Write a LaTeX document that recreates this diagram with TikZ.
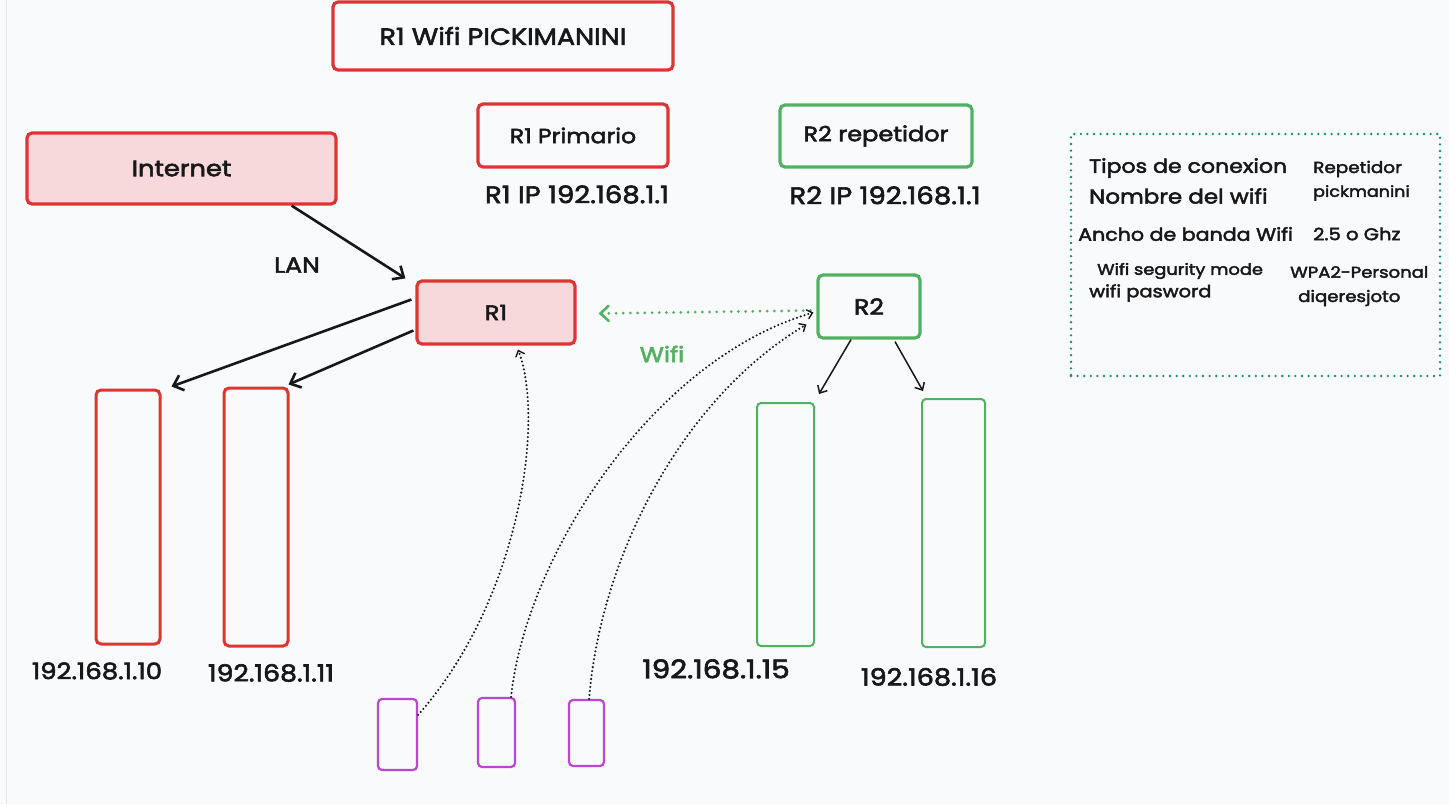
\documentclass[tikz,border=0pt]{standalone}
\usepackage{fontspec}
\setmainfont{Poppins}[FakeStretch=1.15,FakeBold=2.6]
\usetikzlibrary{arrows.meta}
\definecolor{bg}{RGB}{249,250,252}
\definecolor{cred}{RGB}{224,52,52}
\definecolor{cpink}{RGB}{247,216,219}
\definecolor{cgreen}{RGB}{80,178,96}
\definecolor{cteal}{RGB}{20,145,95}
\definecolor{cpurple}{RGB}{186,70,210}
\definecolor{ink}{RGB}{24,24,24}
\definecolor{edge}{RGB}{230,232,236}
\newcommand{\fs}[1]{\fontsize{#1}{#1}\selectfont}
\begin{document}
\begin{tikzpicture}[x=1pt,y=-1pt,
  txt/.style={text=ink,inner sep=0pt},
  redbox/.style={draw=cred,line width=3.2pt,rounded corners=5pt,text=ink,inner sep=0pt},
  greenbox/.style={draw=cgreen,line width=3.2pt,rounded corners=5pt,text=ink,inner sep=0pt},
  pcred/.style={draw=cred,line width=3pt,rounded corners=5pt,inner sep=0pt},
  pcgreen/.style={draw=cgreen,line width=2pt,rounded corners=4pt,inner sep=0pt},
  phone/.style={draw=cpurple,line width=2.2pt,rounded corners=4pt,inner sep=0pt},
  lan/.style={draw=ink,line width=2.6pt,-{Straight Barb[length=9pt,width=16pt,line width=2.6pt]}},
  thin/.style={draw=ink,line width=1.5pt,-{Straight Barb[length=6pt,width=11pt,line width=1.5pt]}},
  wlink/.style={draw=ink,line width=2.3pt,dash pattern=on 0pt off 4pt,line cap=round,
     -{Straight Barb[length=5pt,width=9pt,line width=1.4pt,line cap=round]}},
  gwifi/.style={draw=cgreen,line width=3pt,dash pattern=on 0pt off 7.2pt,line cap=round,
     -{Straight Barb[length=8pt,width=15pt,line width=2.6pt,line cap=round]}},
]
\fill[bg] (0,0) rectangle (1449,804);
\useasboundingbox (0,0) rectangle (1449,804);
\draw[edge,line width=1pt] (6,0) -- (6,804);

% top boxes
\node[redbox,minimum width=340pt,minimum height=68pt,font=\fs{23.5}] (title) at (503,36) {R1 Wifi PICKIMANINI};
\node[redbox,fill=cpink,minimum width=309pt,minimum height=71pt,font=\fs{22.4}] (inet) at (181.5,168.5) {Internet};
\node[redbox,minimum width=190pt,minimum height=63pt,font=\fs{20.5}] (r1p) at (573,135.5) {R1 Primario};
\node[txt,font=\fs{24}] (r1ip) at (577,194.5) {R1 IP 192.168.1.1};
\node[greenbox,minimum width=192pt,minimum height=62pt,font=\fs{20.9}] (r2r) at (876,136) {R2 repetidor};
\node[txt,font=\fs{24}] (r2ip) at (885,195.5) {R2 IP 192.168.1.1};

% routers
\node[redbox,fill=cpink,minimum width=158pt,minimum height=63pt,font=\fs{21}] (r1) at (496,312.5) {R1};
\node[greenbox,minimum width=102pt,minimum height=63pt,font=\fs{22}] (r2) at (869,306.5) {R2};

\node[txt,font=\fs{22}] (lan) at (297,265) {LAN};
\node[txt,text=cgreen,font=\fs{21.5}] (wifi) at (662,354) {Wifi};

% wired PCs
\node[pcred,minimum width=64pt,minimum height=254pt] (pc1) at (128,517) {};
\node[pcred,minimum width=64pt,minimum height=258pt] (pc2) at (256,517) {};
\node[pcgreen,minimum width=57pt,minimum height=243pt] (pc3) at (785.5,524.5) {};
\node[pcgreen,minimum width=63pt,minimum height=248pt] (pc4) at (953.5,523) {};

\node[txt,font=\fs{22.6}] (l1) at (97,671) {192.168.1.10};
\node[txt,font=\fs{23.3}] (l2) at (271,673) {192.168.1.11};
\node[txt,font=\fs{25.6}] (l3) at (716,669) {192.168.1.15};
\node[txt,font=\fs{23.6}] (l4) at (929,677) {192.168.1.16};

% phones
\node[phone,minimum width=39pt,minimum height=71pt] (ph1) at (397.5,734.5) {};
\node[phone,minimum width=37pt,minimum height=69pt] (ph2) at (496.5,732.5) {};
\node[phone,minimum width=35pt,minimum height=66pt] (ph3) at (586.5,733) {};

% info box
\node[draw=cteal,line width=2.6pt,dash pattern=on 0pt off 6.6pt,line cap=round,
      minimum width=369pt,minimum height=242pt,inner sep=0pt] (info) at (1255.5,255) {};
\node[txt,anchor=west,font=\fs{19.2}] (i1) at (1089,168) {Tipos de conexion};
\node[txt,anchor=west,font=\fs{20}] (i2) at (1089,196) {Nombre del wifi};
\node[txt,anchor=west,font=\fs{17.9}] (i3) at (1078,234) {Ancho de banda Wifi};
\node[txt,anchor=west,font=\fs{15.5}] (i4) at (1097,271) {Wifi segurity mode};
\node[txt,anchor=west,font=\fs{16.9}] (i5) at (1089,293) {wifi pasword};
\node[txt,anchor=west,font=\fs{16}] (v1) at (1313,169) {Repetidor};
\node[txt,anchor=west,font=\fs{15.2}] (v2) at (1313,193) {pickmanini};
\node[txt,anchor=west,font=\fs{17}] (v3) at (1313,234) {2.5 o Ghz};
\node[txt,anchor=west,font=\fs{15.7}] (v4) at (1290,272) {WPA2-Personal};
\node[txt,anchor=west,font=\fs{15.8}] (v5) at (1298,298) {diqeresjoto};

% connectors
\draw[lan] ([xshift=-46pt]inet.south east) -- ([xshift=-10pt,yshift=1pt]r1.north west);
\draw[lan] ([xshift=-4pt,yshift=13pt]r1.west) -- ([xshift=10pt,yshift=2pt]pc1.north east);
\draw[lan] ([xshift=-2pt,yshift=-18pt]r1.west) -- ([xshift=-1pt,yshift=2pt]pc2.north east);
\draw[thin] ([xshift=-18pt]r2.south) -- ([xshift=4pt,yshift=8pt]pc3.north east);
\draw[thin] ([xshift=26pt,yshift=-2pt]r2.south) -- ([xshift=2pt,yshift=7pt]pc4.north west);
\draw[gwifi] ([xshift=-6pt,yshift=-4pt]r2.west) -- ([xshift=22pt,yshift=-1pt]r1.east);

\draw[wlink] ([yshift=-17pt]ph1.north east) .. controls (520,600) and (545,420) .. ([xshift=22pt,yshift=-4pt]r1.south);
\draw[wlink] ([xshift=-5pt]ph2.north east) .. controls (525,560) and (650,360) .. ([xshift=-3pt,yshift=-6pt]r2.west);
\draw[wlink] ([xshift=-16pt]ph3.north east) .. controls (600,560) and (680,400) .. ([xshift=-10pt,yshift=-18pt]r2.west);
\end{tikzpicture}
\end{document}
